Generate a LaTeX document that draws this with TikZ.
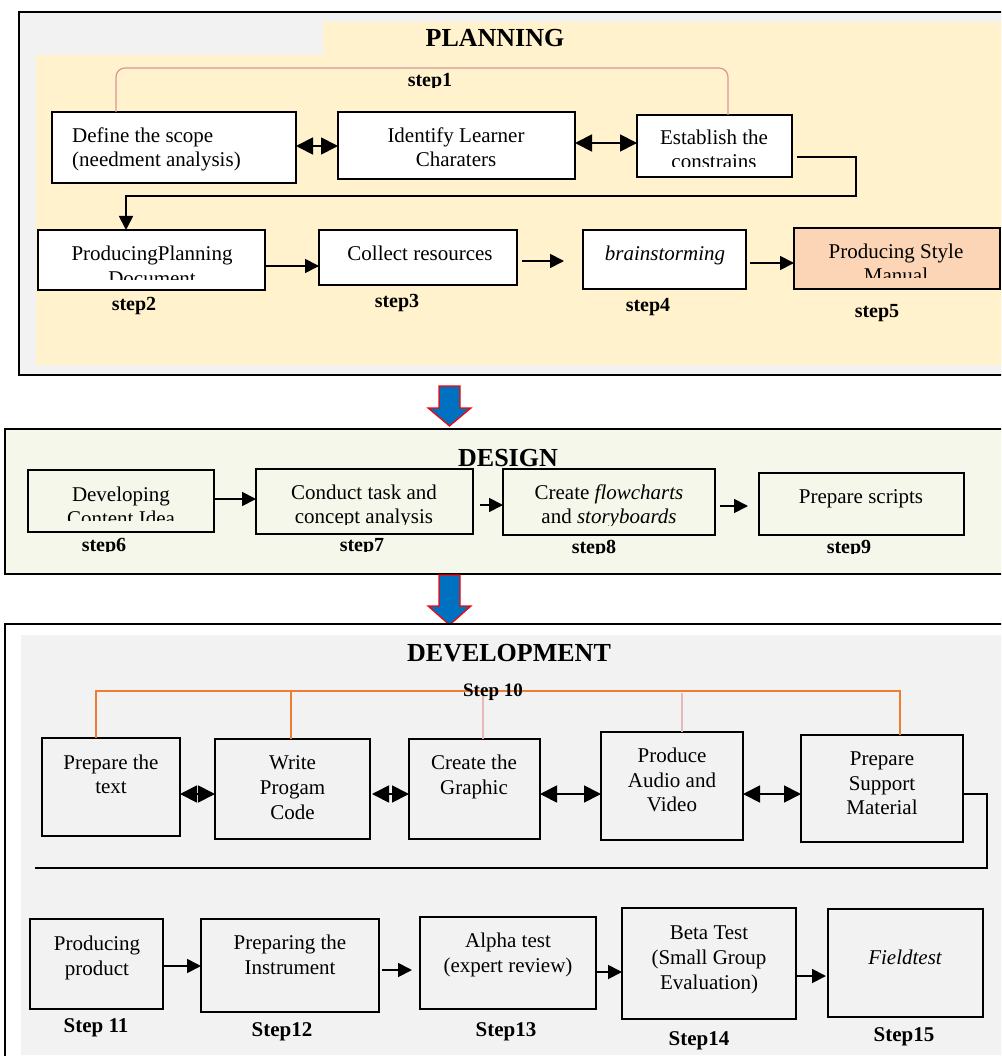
\documentclass[tikz,border=0pt]{standalone}
\usepackage{fontspec}
\setmainfont{Liberation Serif}
\usetikzlibrary{arrows.meta,calc}
\definecolor{pgray}{HTML}{F2F2F2}
\definecolor{beige}{HTML}{FFF2CC}
\definecolor{peach}{HTML}{FBD5B5}
\definecolor{dgreen}{HTML}{F4F7EA}
\definecolor{oline}{HTML}{ED7D31}
\definecolor{lpink}{HTML}{E6B9B8}
\definecolor{bpink}{HTML}{DA9694}
\definecolor{bblue}{HTML}{0070C0}
\newcommand\bx[6][]{\node[box,#1,minimum width={#4-#2},minimum height={#5-#3}] (#6) at ({(#2+#4)/2},{(#3+#5)/2}) {};}
\begin{document}
\begin{tikzpicture}[x=1pt,y=-1pt,
  box/.style={draw=black,line width=1.6pt,inner sep=0pt,outer sep=0pt},
  txt/.style={inner sep=0pt,anchor=base,font=\fontsize{21}{25}\selectfont},
  stp/.style={inner sep=0pt,anchor=base,font=\bfseries\fontsize{20}{24}\selectfont},
  bstp/.style={inner sep=0pt,anchor=base,font=\bfseries\fontsize{21}{25}\selectfont},
  ttl/.style={inner sep=0pt,anchor=base,font=\bfseries\fontsize{26}{30}\selectfont},
  arr/.style={line width=1.8pt,-{Triangle[length=14pt,width=14pt]}},
  dbl/.style={line width=1.8pt,{Triangle[length=17pt,width=17pt]}-{Triangle[length=17pt,width=17pt]}},
  frame/.style={draw=black,line width=1.6pt},
  bigarrow/.style={fill=bblue,draw=red,line width=1.2pt,line join=miter}]
\path[use as bounding box] (0,0) rectangle (1001,1056);
\clip (0,0) rectangle (1001,1056);

% ---------------- PLANNING ----------------
\path[frame,fill=pgray] (19,12) rectangle (1015,375);
\fill[beige] (323,22) -- (1015,22) -- (1015,365) -- (36,365) -- (36,55) -- (323,55) -- cycle;
\node[ttl] (plan) at (495,47) {PLANNING};

\bx[fill=white]{52}{112}{296}{183}{def}
\node[txt,anchor=base west] (def1) at (72,143) {Define the scope};
\node[txt,anchor=base west] (def2) at (72,167) {(needment analysis)};

\bx[fill=white]{338}{112}{575}{179}{idl}
\node[txt] (idl1) at (456,143) {Identify Learner};
\node[txt] (idl2) at (456,167) {Charaters};

\bx[fill=white]{637}{115}{792}{177}{est}
\node[txt] (est1) at (714,145) {Establish the};
\begin{scope}
\clip (637,115) rectangle (792,167);
\node[txt] (est2) at (714,169) {constrains};
\end{scope}

\draw[bpink,line width=1.2pt,rounded corners=9pt] (def.north -| 116,0) -- (116,68) -- (728,68) -- (est.north -| 728,0);
\begin{scope}
\clip (380,60) rectangle (480,87.5);
\node[stp] (s1) at (430,87) {step1};
\end{scope}

\draw[dbl] (def.east |- 0,146) -- (idl.west |- 0,146);
\draw[dbl] (idl.east |- 0,143) -- (est.west |- 0,143);

\bx[fill=white]{38}{230}{265}{290}{ppd}
\node[txt] (ppd1) at (152,261) {ProducingPlanning};
\begin{scope}
\clip (38,230) rectangle (265,280);
\node[txt] (ppd2) at (152,285) {Document};
\end{scope}

\draw[arr] ([xshift=5pt]est.east |- 0,157) -- (856,157) -- (856,196) -- (126,196) -- (ppd.north -| 126,0);

\bx[fill=white]{319}{230}{517}{285}{col}
\node[txt] (col1) at (420,261) {Collect resources};

\bx[fill=white]{583}{230}{746}{289}{brs}
\node[txt,font=\itshape\fontsize{21}{25}\selectfont] (brs1) at (665,261) {brainstorming};

\bx[fill=peach]{794}{228}{1000}{289}{psm}
\node[txt] (psm1) at (896,259) {Producing Style};
\begin{scope}
\clip (794,228) rectangle (1000,278);
\node[txt] (psm2t) at (896,283) {Manual};
\end{scope}

\coordinate (a3s) at (522,261);
\coordinate (a3e) at (564,261);
\draw[arr] (ppd.east |- 0,266) -- (col.west |- 0,266);
\draw[arr] (a3s) -- (a3e);
\draw[arr] ([xshift=4pt]brs.east |- 0,263) -- (psm.west |- 0,263);

\node[stp] (s2) at (134,310) {step2};
\node[stp] (s3) at (397,307) {step3};
\node[stp] (s4) at (648,311) {step4};
\node[stp] (s5) at (877,317) {step5};

% ---------------- arrow 1 ----------------
\path[bigarrow] (439,386) -- (460,386) -- (460,408) -- (471,408) -- (449.5,426) -- (428,408) -- (439,408) -- cycle;

% ---------------- DESIGN ----------------
\path[frame,fill=dgreen] (5,429) rectangle (1015,574);
\node[ttl] (des) at (508,466) {DESIGN};

\bx{28}{470}{214}{532}{dci}
\node[txt] (dci1) at (121,501) {Developing};
\begin{scope}
\clip (28,470) rectangle (214,520);
\node[txt] (dci2) at (121,525) {Content Idea};
\end{scope}

\bx{256}{469}{473}{534}{cta}
\node[txt] (cta1) at (364,499) {Conduct task and};
\begin{scope}
\clip (256,469) rectangle (473,524);
\node[txt] (cta2) at (364,523) {concept analysis};
\end{scope}

\bx{503}{469}{715}{535}{cfs}
\node[txt] (cfs1) at (609,499) {Create \textit{flowcharts}};
\begin{scope}
\clip (503,469) rectangle (715,525);
\node[txt] (cfs2) at (609,523) {and \textit{storyboards}};
\end{scope}

\bx{759}{473}{964}{535}{psc}
\node[txt] (psc1) at (861,503) {Prepare scripts};

\draw[arr] (dci.east |- 0,499) -- (cta.west |- 0,499);
\draw[arr] ([xshift=7pt]cta.east |- 0,505) -- (cfs.west |- 0,505);
\draw[arr] ([xshift=5pt]cfs.east |- 0,506) -- ([xshift=-11pt]psc.west |- 0,506);

\begin{scope}
\clip (0,535) rectangle (1001,551);
\node[stp] (s6) at (104,551) {step6};
\node[stp] (s7) at (362,551) {step7};
\end{scope}
\begin{scope}
\clip (0,535) rectangle (1001,553);
\node[stp] (s8) at (594,553) {step8};
\node[stp] (s9) at (849,553) {step9};
\end{scope}

% ---------------- arrow 2 ----------------
\path[bigarrow] (439,575) -- (460,575) -- (460,606) -- (471,606) -- (449.5,625) -- (428,606) -- (439,606) -- cycle;

% ---------------- DEVELOPMENT ----------------
\path[frame,fill=white] (5,624) rectangle (1015,1070);
\fill[pgray] (21,635) rectangle (1015,1055);
\node[ttl] (dev) at (509,661) {DEVELOPMENT};

\bx{42}{738}{180}{836}{pte}
\node[txt] (pte1) at (111,769) {Prepare the};
\node[txt] (pte2) at (111,793) {text};

\bx{215}{739}{370}{839}{wpc}
\node[txt] (wpc1) at (292.5,769) {Write};
\node[txt] (wpc2) at (292.5,794) {Progam};
\node[txt] (wpc3) at (292.5,819) {Code};

\bx{409}{739}{540}{839}{cgr}
\node[txt] (cgr1) at (474,769) {Create the};
\node[txt] (cgr2) at (474,794) {Graphic};

\bx{601}{732}{743}{840}{paa}
\node[txt] (paa1) at (672,762) {Produce};
\node[txt] (paa2) at (672,787) {Audio and};
\node[txt] (paa3) at (672,811) {Video};

\bx{801}{735}{963}{842}{pts}
\node[txt] (pts1) at (882,765) {Prepare};
\node[txt] (pts2) at (882,790) {Support};
\node[txt] (pts3) at (882,814) {Material};

\draw[oline,line width=1.8pt] (pte.north -| 96,0) -- (96,691) -- (900,691) -- (pts.north -| 900,0);
\draw[oline,line width=1.8pt] (291,691) -- (wpc.north -| 291,0);
\draw[lpink,line width=2.5pt] (483,693) -- (cgr.north -| 483,0);
\draw[lpink,line width=2.5pt] (682,693) -- (paa.north -| 682,0);
\node[stp,font=\bfseries\fontsize{19}{23}\selectfont] (s10) at (493,696) {Step 10};

\draw[dbl] (pte.east |- 0,794) -- (wpc.west |- 0,794);
\draw[dbl] ([xshift=2pt]wpc.east |- 0,794) -- (cgr.west |- 0,794);
\draw[dbl] (cgr.east |- 0,794) -- (paa.west |- 0,794);
\draw[dbl] (paa.east |- 0,794) -- (pts.west |- 0,794);

\coordinate (dend) at (35,868);
\draw[line width=1.8pt] (pts.east |- 0,794) -- (987,794) -- (987,868) -- (dend);

\bx{30}{919}{163}{1009}{pp}
\node[txt] (pp1) at (97,950) {Producing};
\node[txt] (pp2) at (97,975) {product};

\bx{201}{919}{379}{1012}{pti}
\node[txt] (pti1) at (290,949) {Preparing the};
\node[txt] (pti2) at (290,974) {Instrument};

\bx{420}{917}{596}{1009}{atr}
\node[txt] (atr1) at (508,947) {Alpha test};
\node[txt] (atr2) at (508,972) {(expert review)};

\bx{622}{908}{796}{1019}{bts}
\node[txt] (bts1) at (709,939) {Beta Test};
\node[txt] (bts2) at (709,964) {(Small Group};
\node[txt] (bts3) at (709,989) {Evaluation)};

\bx{828}{909}{983}{1017}{fld}
\node[txt,font=\itshape\fontsize{21}{25}\selectfont] (fld1) at (905,964) {Fieldtest};

\draw[arr] (pp.east |- 0,966) -- (pti.west |- 0,966);
\draw[arr] ([xshift=3pt]pti.east |- 0,970) -- ([xshift=-8pt]atr.west |- 0,970);
\draw[arr] (atr.east |- 0,972) -- (bts.west |- 0,972);
\draw[arr] (bts.east |- 0,976) -- ([xshift=-2pt]fld.west |- 0,976);

\node[bstp] (s11) at (96,1032) {Step 11};
\node[bstp] (s12) at (282,1036) {Step12};
\node[bstp] (s13) at (506,1036) {Step13};
\node[bstp] (s14) at (699,1045) {Step14};
\node[bstp] (s15) at (904,1041) {Step15};
\end{tikzpicture}
\end{document}
